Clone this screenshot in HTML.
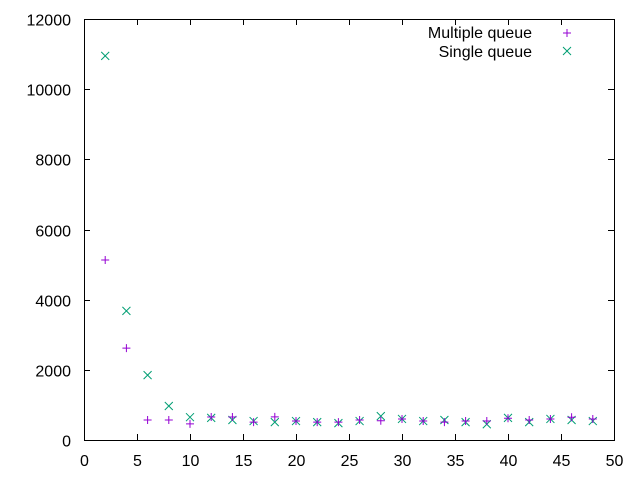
<!DOCTYPE html>
<html><head><meta charset="utf-8"><style>
body{margin:0;background:#fff}
svg{display:block;font-family:"Liberation Sans",sans-serif;font-size:16px}
</style></head><body>
<svg id="chart" width="640" height="480">
<rect width="640" height="480" fill="#fff"/>
<g id="axes"></g>
<g id="marks"></g>
<g id="legend">
<text x="532" y="38" text-anchor="end">Multiple queue</text>
<path d="M563,33h8M567,29v8" stroke="#9400d3" stroke-width="1"/>
<text x="532" y="57" text-anchor="end">Single queue</text>
<path d="M563,47l8,8M563,55l8,-8" stroke="#009e73" stroke-width="1"/>
</g>
</svg>
<script>
const xCats=[2,4,6,8,10,12,14,16,18,20,22,24,26,28,30,32,34,36,38,40,42,44,46,48];
const multipleQueue=[5130,2620,570,570,460,655,655,510,660,540,510,510,570,550,600,540,510,540,540,620,570,600,650,600];
const singleQueue=[10950,3680,1850,970,650,630,570,540,510,540,510,480,540,680,600,540,570,510,450,630,510,600,570,540];
const xTicks=[0,5,10,15,20,25,30,35,40,45,50];
const yTicks=[0,2000,4000,6000,8000,10000,12000];
const L=84,R=614,T=19,B=440;
const sx=v=>L+(v-0)/50*(R-L);
const sy=v=>B-v/12000*(B-T);
const NS="http://www.w3.org/2000/svg";
const axes=document.getElementById('axes'),marks=document.getElementById('marks');
function mk(tag,attrs,parent){const e=document.createElementNS(NS,tag);for(const k in attrs)e.setAttribute(k,attrs[k]);parent.appendChild(e);return e;}
const frame=mk('rect',{x:L+.5,y:T+.5,width:R-L,height:B-T,fill:'none',stroke:'#000'},axes);


xTicks.forEach(v=>{const x=Math.round(sx(v))+.5;
 const t=mk('path',{d:`M${x},${B}v-6M${x},${T}v6`,stroke:'#000'},axes);
 
 
 const l=mk('text',{x:x,y:466,'text-anchor':'middle'},axes);l.textContent=v;
 
 });
yTicks.forEach(v=>{const y=Math.round(sy(v))+.5;
 const t=mk('path',{d:`M${L},${y}h6M${R},${y}h-6`,stroke:'#000'},axes);
 
 
 const l=mk('text',{x:71,y:y+6,'text-anchor':'end'},axes);l.textContent=v;
 
 });
xCats.forEach((c,i)=>{
 const x=sx(c),y=sy(singleQueue[i]);
 const p=mk('path',{d:`M${x-4},${y-4}l8,8M${x-4},${y+4}l8,-8`,stroke:'#009e73'},marks);
 
 
});
xCats.forEach((c,i)=>{
 const x=sx(c),y=sy(multipleQueue[i]);
 const p=mk('path',{d:`M${x-4},${y}h8M${x},${y-4}v8`,stroke:'#9400d3'},marks);
 
 
});
</script>
</body></html>
